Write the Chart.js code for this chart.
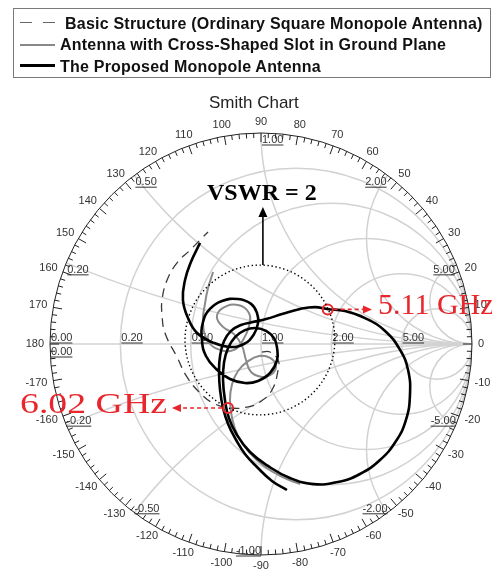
<!DOCTYPE html>
<html><head><meta charset="utf-8">
<script src="https://cdn.jsdelivr.net/npm/chart.js@4.4.1/dist/chart.umd.min.js"></script>
<style>
html,body{margin:0;padding:0;background:#fff;}
#wrap{position:relative;width:492px;height:573px;overflow:hidden;background:#fff;}
#c{position:absolute;left:0;top:0;}
.lg{position:absolute;left:13px;top:8px;width:478px;height:70px;border:1px solid #7a7a7a;box-sizing:border-box;}
.t{position:absolute;white-space:nowrap;font-family:"Liberation Sans",Arial,sans-serif;}
.lt{font-weight:bold;font-size:16px;letter-spacing:0.22px;line-height:17px;color:#111;}
.sym{position:absolute;}
.red{font-family:'Liberation Serif','Times New Roman',serif;font-size:30px;line-height:34px;color:#e8262b;transform-origin:0 0;}
</style></head><body>
<div id="wrap">
<canvas id="c" width="492" height="573"></canvas>
<div class="lg"></div>
<div class="sym" style="left:20px;top:22px;width:12px;height:0;border-top:1.5px solid #666;"></div>
<div class="sym" style="left:43px;top:22px;width:12px;height:0;border-top:1.5px solid #666;"></div>
<div class="sym" style="left:20px;top:44px;width:35px;height:0;border-top:2px solid #888;"></div>
<div class="sym" style="left:20px;top:64px;width:35px;height:0;border-top:3px solid #000;"></div>
<div class="t lt" id="l1" style="left:65px;top:15px;"></div>
<div class="t lt" id="l2" style="left:60px;top:36px;"></div>
<div class="t lt" id="l3" style="left:60px;top:58px;"></div>
<div class="t" id="title" style="left:209px;top:93px;font-size:17px;line-height:20px;color:#222;">Smith Chart</div>
<div class="t" id="vswr" style="left:207px;top:178px;font-family:'Liberation Serif','Times New Roman',serif;font-weight:bold;font-size:24px;line-height:28px;color:#000;">VSWR = 2</div>
<div class="t red" id="m1" style="left:378px;top:287px;"></div>
<div class="t red" id="m2" style="left:20px;top:386px;transform:scaleX(1.26);"></div>
</div>
<script>
// ---------- data (reflection coefficient) ----------
const seriesNames = ["Basic Structure (Ordinary Square Monopole Antenna)",
                     "Antenna with Cross-Shaped Slot in Ground Plane",
                     "The Proposed Monopole Antenna"];
const resistanceValues = [0.2, 0.5, 1, 2, 5];
const reactanceValues  = [0.2, 0.5, 1, 2, 5];
const angleTicks = [0,10,20,30,40,50,60,70,80,90,100,110,120,130,140,150,160,170,180,
                    -10,-20,-30,-40,-50,-60,-70,-80,-90,-100,-110,-120,-130,-140,-150,-160,-170];

const basicRe = [0.005,0.043,0.081,0.081,0.052,-0.005,-0.066,-0.147,-0.227,-0.289,-0.351,-0.398,-0.455,-0.469,-0.469,-0.445,-0.398,-0.336,-0.280,-0.251];
const basicIm = [-0.038,-0.038,-0.076,-0.123,-0.218,-0.275,-0.299,-0.303,-0.280,-0.232,-0.156,-0.062,0.052,0.137,0.209,0.303,0.384,0.445,0.502,0.531];

const slotRe = [0.185,0.100,0.014,-0.057,-0.109,-0.137,-0.147,-0.137,-0.109,-0.066,-0.009,0.043,0.071,0.052,0.005,-0.047,-0.071,-0.090,-0.128,-0.180,-0.209,-0.180,-0.109,-0.057,-0.057,-0.085,-0.128,-0.194,-0.251,-0.275,-0.265,-0.251,-0.227];
const slotIm = [-0.664,-0.630,-0.578,-0.512,-0.436,-0.351,-0.265,-0.190,-0.128,-0.085,-0.057,-0.066,-0.104,-0.142,-0.156,-0.133,-0.076,-0.009,0.047,0.081,0.128,0.171,0.185,0.147,0.085,0.019,-0.028,-0.028,0.014,0.100,0.194,0.265,0.341];

const propRe = [0.123,0.052,-0.019,-0.076,-0.118,-0.156,-0.180,-0.194,-0.199,-0.194,-0.175,-0.142,-0.095,-0.038,0.024,0.100,0.185,0.256,0.313,0.398,0.493,0.588,0.659,0.697,0.706,0.687,0.640,0.564,0.469,0.365,0.246,0.137,0.033,-0.052,-0.114,-0.152,-0.171,-0.180,-0.175,-0.156,-0.123,-0.076,-0.024,0.024,0.062,0.076,0.076,0.043,-0.014,-0.076,-0.147,-0.213,-0.261,-0.280,-0.275,-0.242,-0.185,-0.109,-0.047,-0.019,-0.014,-0.033,-0.081,-0.152,-0.232,-0.303,-0.346,-0.370,-0.360,-0.332,-0.289];
const propIm = [-0.692,-0.649,-0.583,-0.521,-0.455,-0.379,-0.303,-0.218,-0.133,-0.057,0.014,0.062,0.090,0.104,0.118,0.142,0.166,0.175,0.166,0.156,0.123,0.062,-0.028,-0.123,-0.242,-0.360,-0.460,-0.550,-0.616,-0.654,-0.664,-0.635,-0.578,-0.512,-0.431,-0.351,-0.265,-0.171,-0.085,-0.019,0.033,0.066,0.076,0.062,0.028,-0.019,-0.076,-0.137,-0.175,-0.185,-0.166,-0.118,-0.057,0.019,0.104,0.166,0.204,0.213,0.190,0.147,0.100,0.047,0.000,-0.014,0.009,0.052,0.123,0.209,0.303,0.389,0.479];

const markerLabels = ["5.11 GHz", "6.02 GHz"];
const markerRe = [0.316, -0.156];
const markerIm = [0.164, -0.303];
const vswrLabel = "VSWR = 2";

// ---------- build ----------
const pts = (re, im) => re.map((r, i) => ({x: r, y: im[i]}));
document.getElementById('l1').textContent = seriesNames[0];
document.getElementById('l2').textContent = seriesNames[1];
document.getElementById('l3').textContent = seriesNames[2];
document.getElementById('m1').textContent = markerLabels[0];
document.getElementById('m2').textContent = markerLabels[1];
document.getElementById('vswr').textContent = vswrLabel;

function fmt(v){ return v.toFixed(2); }

const smithGrid = {
  id: 'smithGrid',
  beforeDatasetsDraw(chart) {
    const {ctx} = chart, xs = chart.scales.x, ys = chart.scales.y;
    const P = (a, b) => [xs.getPixelForValue(a), ys.getPixelForValue(b)];
    const [cx, cy] = P(0, 0);
    const R = xs.getPixelForValue(1) - cx;
    ctx.save();
    ctx.beginPath(); ctx.arc(cx, cy, R, 0, 2 * Math.PI); ctx.clip();
    ctx.strokeStyle = '#d2d2d2'; ctx.lineWidth = 1.5;
    resistanceValues.forEach(r => {
      const [ux, uy] = P(r / (1 + r), 0);
      ctx.beginPath(); ctx.arc(ux, uy, R / (1 + r), 0, 2 * Math.PI); ctx.stroke();
    });
    reactanceValues.forEach(x => {
      [1, -1].forEach(s => {
        const [ux, uy] = P(1, s / x);
        ctx.beginPath(); ctx.arc(ux, uy, R / x, 0, 2 * Math.PI); ctx.stroke();
      });
    });
    ctx.beginPath(); ctx.moveTo(cx - R, cy); ctx.lineTo(cx + R, cy); ctx.stroke();
    ctx.restore();

    ctx.save();
    ctx.strokeStyle = '#222'; ctx.lineWidth = 1;
    ctx.beginPath(); ctx.arc(cx, cy, R, 0, 2 * Math.PI); ctx.stroke();
    for (let a = -180; a < 180; a += 2) {
      const t = a * Math.PI / 180, L = (a % 10 === 0) ? 9 : 5;
      ctx.beginPath();
      ctx.moveTo(cx + R * Math.cos(t), cy - R * Math.sin(t));
      ctx.lineTo(cx + (R - L) * Math.cos(t), cy - (R - L) * Math.sin(t));
      ctx.stroke();
    }
    ctx.fillStyle = '#333';
    ctx.font = '11px "Liberation Sans", Arial, sans-serif';
    ctx.textAlign = 'center'; ctx.textBaseline = 'middle';
    angleTicks.forEach(a => {
      const t = a * Math.PI / 180, s = String(a), w = ctx.measureText(s).width;
      const x = cx + (R + 5) * Math.cos(t) + (w / 2 + 1) * Math.cos(t);
      const y = cy - (R + 5) * Math.sin(t) - 6 * Math.sin(t);
      ctx.fillText(s, x, y);
    });

    // impedance labels (underlined)
    ctx.textBaseline = 'alphabetic';
    const lab = (s, x, y, align) => {
      ctx.textAlign = align;
      ctx.fillText(s, x, y);
      const w = ctx.measureText(s).width;
      const x0 = align === 'left' ? x : x - w;
      ctx.beginPath(); ctx.moveTo(x0, y + 2); ctx.lineTo(x0 + w, y + 2);
      ctx.strokeStyle = '#333'; ctx.stroke();
    };
    lab('0.00', cx - R + 1, cy - 3, 'left');
    lab('0.00', cx - R + 1, cy + 11, 'left');
    resistanceValues.forEach(r => {
      const [ux] = P((r - 1) / (r + 1), 0);
      lab(fmt(r), ux + 1, cy - 3, 'left');
    });
    reactanceValues.forEach(x => {
      const gr = (x * x - 1) / (x * x + 1), gi = 2 * x / (x * x + 1);
      const [ux, uy] = P(gr, gi);
      const [vx, vy] = P(gr, -gi);
      const al = x <= 1 ? 'left' : 'right';
      lab(fmt(x), ux + (al === 'left' ? 1 : -1), uy + 10, al);
      const aln = x < 1 ? 'left' : 'right';
      lab('-' + fmt(x), vx, vy - 1, aln);
    });
    ctx.restore();
  },
  afterDatasetsDraw(chart) {
    const {ctx} = chart, xs = chart.scales.x, ys = chart.scales.y;
    const P = (a, b) => [xs.getPixelForValue(a), ys.getPixelForValue(b)];
    const [cx, cy] = P(0, 0);
    const R = xs.getPixelForValue(1) - cx;
    ctx.save();
    const [vx, vy] = P(-0.005, 0.019);
    ctx.strokeStyle = '#000'; ctx.lineWidth = 1.4; ctx.setLineDash([1.4, 2.6]);
    ctx.beginPath(); ctx.arc(vx, vy, 0.355 * R, 0, 2 * Math.PI); ctx.stroke();
    ctx.setLineDash([]);
    const arrow = (x1, y1, x2, y2, color, dash, hl, hw, lw) => {
      ctx.strokeStyle = color; ctx.fillStyle = color; ctx.lineWidth = lw;
      const ang = Math.atan2(y2 - y1, x2 - x1);
      const bx = x2 - hl * Math.cos(ang), by = y2 - hl * Math.sin(ang);
      ctx.setLineDash(dash);
      ctx.beginPath(); ctx.moveTo(x1, y1); ctx.lineTo(bx, by); ctx.stroke();
      ctx.setLineDash([]);
      ctx.beginPath(); ctx.moveTo(x2, y2);
      ctx.lineTo(bx + hw * Math.sin(ang), by - hw * Math.cos(ang));
      ctx.lineTo(bx - hw * Math.sin(ang), by + hw * Math.cos(ang));
      ctx.closePath(); ctx.fill();
    };
    const [ax, ay1] = P(0.009, 0.374), [, ay2] = P(0.009, 0.649);
    arrow(ax, ay1, ax, ay2, '#000', [], 10, 4.5, 1.6);
    const [m1x, m1y] = P(markerRe[0], markerIm[0]);
    const [m2x, m2y] = P(markerRe[1], markerIm[1]);
    arrow(m1x + 6, m1y, P(0.526, 0)[0], m1y, '#e8262b', [4, 3], 9, 4, 1.6);
    arrow(m2x - 6, m2y, P(-0.422, 0)[0], m2y, '#e8262b', [4, 3], 9, 4, 1.6);
    ctx.restore();
  }
};

new Chart(document.getElementById('c'), {
  type: 'scatter',
  data: {
    datasets: [
      { label: 'markers', data: pts(markerRe, markerIm), showLine: false,
        pointRadius: 5, pointBorderWidth: 2, pointBorderColor: '#e8262b',
        pointBackgroundColor: 'rgba(0,0,0,0)', order: 0 },
      { label: seriesNames[2], data: pts(propRe, propIm), showLine: true, tension: 0.45,
        borderColor: '#000', borderWidth: 2.6, pointRadius: 0, order: 1 },
      { label: seriesNames[1], data: pts(slotRe, slotIm), showLine: true, tension: 0.45,
        borderColor: '#8a8a8a', borderWidth: 2, pointRadius: 0, order: 2 },
      { label: seriesNames[0], data: pts(basicRe, basicIm), showLine: true, tension: 0.45,
        borderColor: '#3a3a3a', borderWidth: 1.3, borderDash: [9, 6], pointRadius: 0, order: 3 }
    ]
  },
  options: {
    responsive: false, animation: false, events: [],
    layout: { padding: { left: 50, right: 20, top: 133, bottom: 18 } },
    scales: {
      x: { type: 'linear', min: -1, max: 1, display: false },
      y: { type: 'linear', min: -1, max: 1, display: false }
    },
    plugins: { legend: { display: false }, tooltip: { enabled: false }, title: { display: false } }
  },
  plugins: [smithGrid]
});
</script>
</body></html>
